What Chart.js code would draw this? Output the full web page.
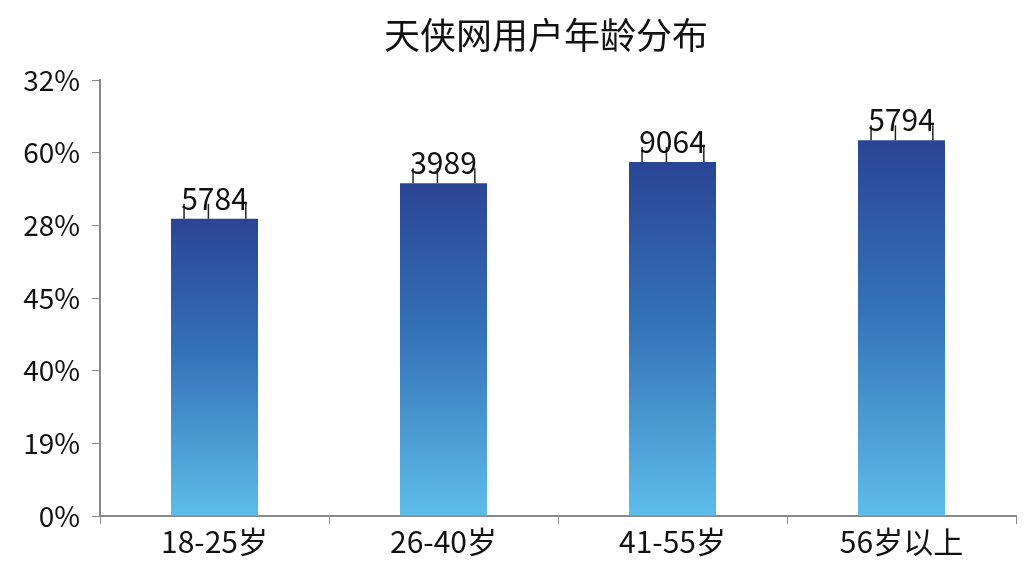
<!DOCTYPE html>
<html>
<head>
<meta charset="utf-8">
<script src="https://cdn.jsdelivr.net/npm/chart.js@4/dist/chart.umd.min.js"></script>
<style>
  html, body { margin: 0; padding: 0; background: #fff; }
  #wrap { width: 1024px; height: 576px; }
</style>
</head>
<body>
<div id="wrap"><canvas id="myChart" width="1024" height="576"></canvas></div>
<script>
const categories = ['18-25岁', '26-40岁', '41-55岁', '56岁以上'];
const barValues = [4.09, 4.58, 4.87, 5.17];
const barLabels = ['5784', '3989', '9064', '5794'];
const yTickLabels = ['0%', '19%', '40%', '45%', '28%', '60%', '32%'];
const titleText = '天侠网用户年龄分布';

const FONT = '"Noto Sans CJK SC", "Noto Sans", sans-serif';

// dark at each bar's top, light at its bottom
function barGradient(context) {
  const chart = context.chart;
  if (!chart.chartArea) return '#3a6fb8';
  const y = chart.scales.y;
  const top = y.getPixelForValue(context.raw);
  const bottom = y.getPixelForValue(0);
  const g = chart.ctx.createLinearGradient(0, top, 0, bottom);
  g.addColorStop(0, '#2a4494');
  g.addColorStop(0.45, '#3472b8');
  g.addColorStop(1, '#5dbde9');
  return g;
}

// title centred over the plot area, space above it kept by layout padding
const titlePlugin = {
  id: 'titlePlugin',
  afterDraw(chart) {
    const ctx = chart.ctx;
    const a = chart.chartArea;
    ctx.save();
    ctx.fillStyle = '#111';
    ctx.font = '36px ' + FONT;
    ctx.textAlign = 'center';
    ctx.textBaseline = 'middle';
    ctx.fillText(titleText, (a.left + a.right) / 2 - 12, 35);
    ctx.restore();
  }
};

// value labels with the little marks standing on the bar top
const labelPlugin = {
  id: 'labelPlugin',
  afterDatasetsDraw(chart) {
    const ctx = chart.ctx;
    const meta = chart.getDatasetMeta(0);
    ctx.save();
    meta.data.forEach((bar, i) => {
      const left = bar.x - bar.width / 2;
      ctx.strokeStyle = '#222';
      ctx.lineWidth = 1.5;
      [0.15, 0.43, 0.86].forEach(f => {
        ctx.beginPath();
        ctx.moveTo(left + bar.width * f, bar.y);
        ctx.lineTo(left + bar.width * f, bar.y - 15);
        ctx.stroke();
      });
      ctx.fillStyle = '#111';
      ctx.font = '30px ' + FONT;
      ctx.textAlign = 'center';
      ctx.textBaseline = 'alphabetic';
      ctx.fillText(barLabels[i], bar.x, bar.y - 9);
    });
    ctx.restore();
  }
};

new Chart(document.getElementById('myChart').getContext('2d'), {
  type: 'bar',
  data: {
    labels: categories,
    datasets: [{
      data: barValues,
      backgroundColor: barGradient,
      borderWidth: 0,
      categoryPercentage: 1,
      barPercentage: 0.38
    }]
  },
  options: {
    responsive: false,
    animation: false,
    layout: { padding: { top: 80, right: 8, bottom: 0, left: 0 } },
    plugins: {
      legend: { display: false },
      tooltip: { enabled: false },
      title: { display: false }
    },
    scales: {
      x: {
        grid: { display: true, drawOnChartArea: false, drawTicks: true, tickLength: 8, color: '#888', offset: true },
        border: { color: '#888', width: 2 },
        ticks: { color: '#111', font: { family: FONT, size: 30 }, padding: 0 },
        afterFit(scale) { scale.height = 60; }
      },
      y: {
        min: 0,
        max: 6,
        grid: { display: true, drawOnChartArea: false, tickLength: 8, color: '#888' },
        border: { color: '#888', width: 2 },
        ticks: {
          stepSize: 1,
          color: '#111',
          font: { family: FONT, size: 28 },
          padding: 12,
          callback: (v) => yTickLabels[v]
        },
        afterFit(scale) { scale.width = 100; }
      }
    }
  },
  plugins: [labelPlugin, titlePlugin]
});
</script>
</body>
</html>
